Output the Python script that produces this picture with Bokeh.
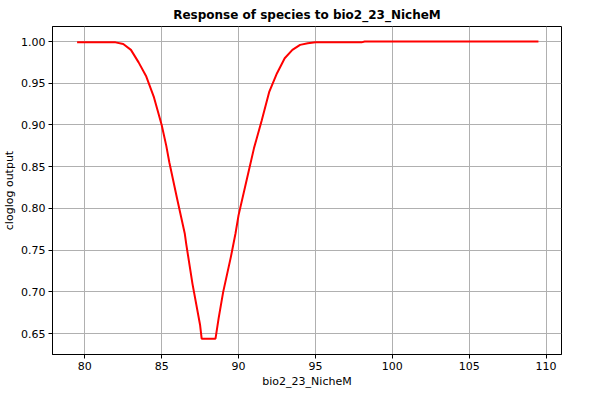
from bokeh.plotting import figure
from bokeh.embed import file_html
from bokeh.resources import INLINE
from bokeh.models import Range1d, PrintfTickFormatter

x = [79.5, 80, 81, 82, 82.5, 83, 83.5, 84, 84.5, 85, 85.3, 85.5, 86, 86.5, 86.6,
     87, 87.5, 87.6, 88.5, 88.7, 89, 89.5, 89.8, 90, 90.5, 91, 91.5, 92, 92.5,
     93, 93.5, 94, 94.5, 95, 98, 98.2, 109.5]
y = [0.999, 0.999, 0.999, 0.999, 0.997, 0.99, 0.975, 0.958, 0.933, 0.90, 0.875,
     0.855, 0.812, 0.77, 0.757, 0.71, 0.66, 0.644, 0.644, 0.668, 0.70, 0.742,
     0.77, 0.792, 0.832, 0.872, 0.905, 0.94, 0.962, 0.98, 0.99, 0.996, 0.998,
     0.999, 0.999, 1.0, 1.0]

p = figure(width=584, height=390, output_backend="svg", toolbar_location=None,
           title="Response of species to bio2_23_NicheM",
           x_range=Range1d(77.9, 111.0), y_range=Range1d(0.625, 1.018))
p.line(x, y, color="red", line_width=2)

p.title.align = "center"
p.title.text_font = "DejaVu Sans"
p.title.text_font_size = "12px"
p.title.text_font_style = "bold"
p.title.text_color = "black"
p.xaxis.axis_label = "bio2_23_NicheM"
p.yaxis.axis_label = "cloglog output"
for ax in (p.xaxis, p.yaxis):
    ax.axis_label_text_font = "DejaVu Sans"
    ax.axis_label_text_font_style = "normal"
    ax.axis_label_text_font_size = "11px"
    ax.axis_label_text_color = "black"
    ax.axis_label_standoff = 2
    ax.major_label_text_font = "DejaVu Sans"
    ax.major_label_text_font_size = "11px"
    ax.major_label_text_color = "black"
    ax.major_label_standoff = 3
    ax.minor_tick_line_color = None
    ax.major_tick_in = 0
    ax.major_tick_out = 4
p.yaxis.ticker = [0.65, 0.70, 0.75, 0.80, 0.85, 0.90, 0.95, 1.00]
p.yaxis.formatter = PrintfTickFormatter(format="%.2f")
p.grid.grid_line_color = "#b0b0b0"
p.outline_line_color = "black"
p.min_border_left = 0
p.min_border_right = 23
p.min_border_top = 0
p.min_border_bottom = 0

open("out.html", "w").write(file_html(p, INLINE))
